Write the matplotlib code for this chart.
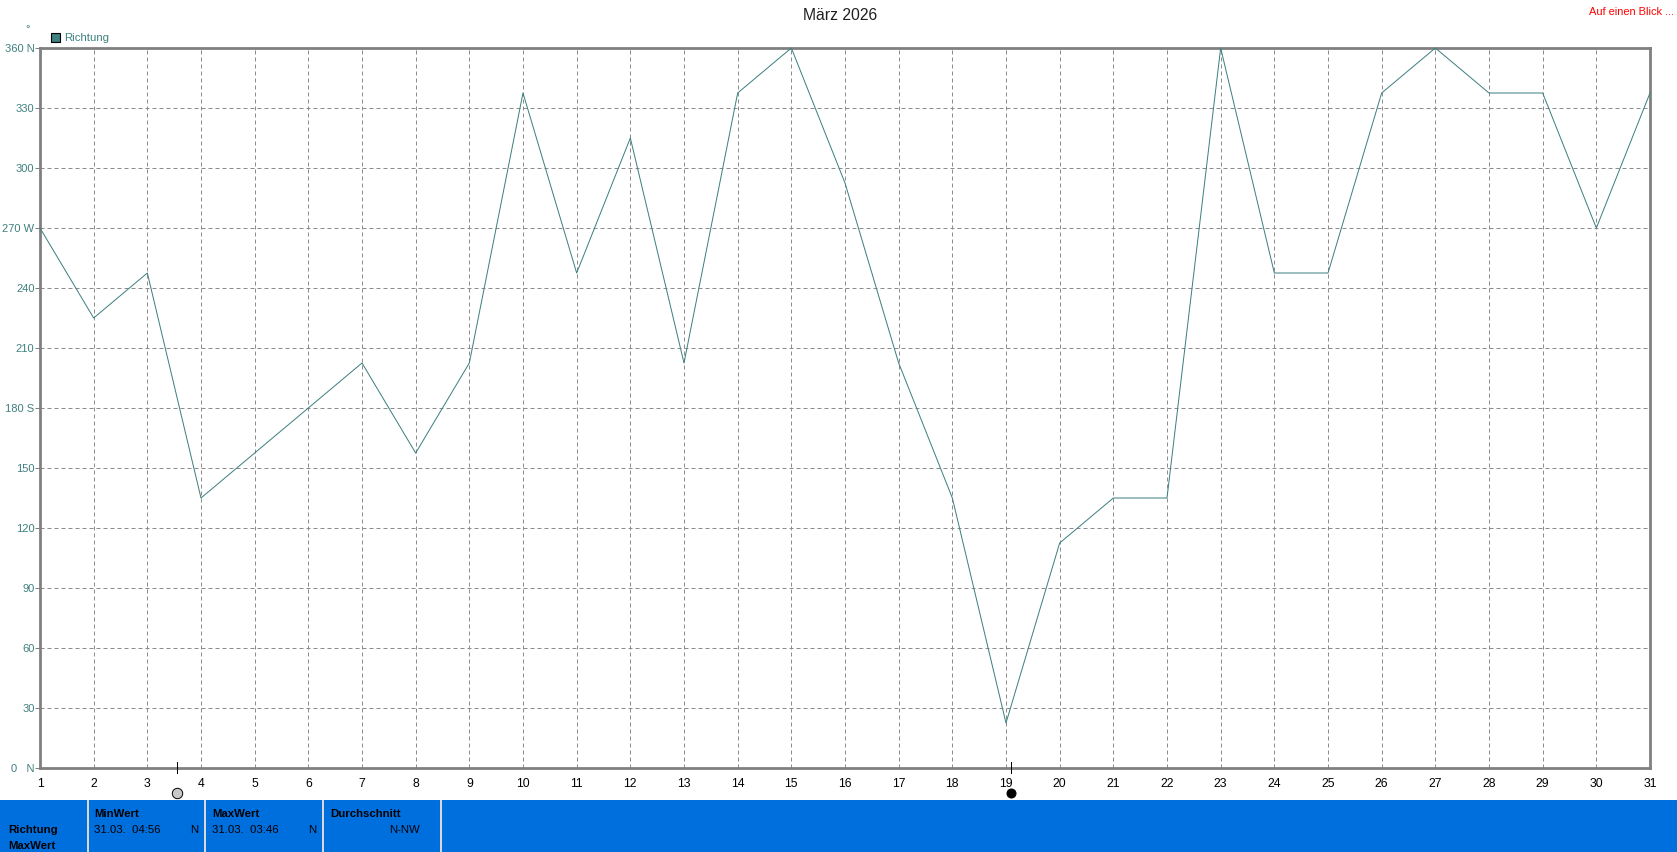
import matplotlib
matplotlib.use("Agg")
import matplotlib.pyplot as plt
from matplotlib.patches import Rectangle
from matplotlib.transforms import Affine2D

W, H = 1677, 852
FONT = "Liberation Sans"
TEAL = "#3F8080"
GREY = "#808080"
BLUE = "#006FDE"

days = list(range(1, 32))
direction = [270, 225, 247.5, 135, 157.5, 180, 202.5, 157.5, 202.5, 337.5,
             247.5, 315, 202.5, 337.5, 360, 292.5, 202.5, 135, 22.5, 112.5,
             135, 135, 360, 247.5, 247.5, 337.5, 360, 337.5, 337.5, 270, 337.5]
y_ticks = list(range(0, 361, 30))
y_labels = {0: "0   N", 30: "30", 60: "60", 90: "90", 120: "120", 150: "150",
            180: "180 S", 210: "210", 240: "240", 270: "270 W", 300: "300",
            330: "330", 360: "360 N"}
moon_days = [3.55, 19.09]
moon_faces = ["#C8C8C8", "black"]
moon_sizes = [7.5, 6.5]
panel_headers = ["MinWert", "MaxWert", "Durchschnitt"]
panel_when = ["31.03.  04:56", "31.03.  03:46", ""]
panel_values = ["N", "N", "N-NW"]
panel_lefts = [94, 212, 330]
panel_rights = [198, 316, 420]
panel_seps = [87, 204, 322, 440]

plt.rcParams["font.family"] = [FONT, "DejaVu Sans"]
fig = plt.figure(figsize=(W / 100, H / 100), dpi=100, facecolor="white")
px = Affine2D().scale(1, -1).translate(0, H)  # figure pixels, y down


def label(x, y, s, **kw):
    kw.setdefault("fontsize", 8.2)
    kw.setdefault("va", "center")
    fig.text(x, y, s, transform=px, **kw)


L, R, T, B = 40, 1650, 48, 768
ax = fig.add_axes([L / W, 1 - B / H, (R - L) / W, (B - T) / H])
ax.set_xlim(1, 31)
ax.set_ylim(0, 360)
ax.plot(days, direction, color=TEAL, lw=0.72, clip_on=False, zorder=3)
ax.set_xticks(days)
ax.set_yticks(y_ticks)
ax.set_yticklabels([])
ax.set_xticklabels([str(d) for d in days], fontsize=8.8, color="black")
ax.tick_params(axis="x", length=0, pad=7)
ax.tick_params(axis="y", length=3.5, width=0.72, color=GREY, pad=2)
ax.grid(True, color="#8C8C8C", lw=0.72, ls=(0, (4, 3)))
ax.set_axisbelow(True)
for s in ax.spines.values():
    s.set_color(GREY)
    s.set_linewidth(2.0)

for v in y_ticks:
    yy = B - (B - T) * v / 360
    label(34.5, yy + 1, y_labels[v], ha="right", color=TEAL, fontsize=8.0)

# moon phase markers
for d, face, ms in zip(moon_days, moon_faces, moon_sizes):
    ax.plot([d, d], [-2.7, 3.0], color="black", lw=0.72, clip_on=False, zorder=5)
    xx = L + (R - L) * (d - 1) / 30
    ax.plot([xx], [793], marker="o", ms=ms, mfc=face, mec="black", mew=0.7,
            transform=px, clip_on=False, zorder=5)

# title and legend
label(840, 15, "März 2026", ha="center", fontsize=11.3, color="#202020")
label(1674, 12, "Auf einen Blick ...", ha="right", color="red", fontsize=7.9)
label(28, 29, "°", ha="center", color=TEAL)
fig.add_artist(Rectangle((51, 33), 9, 9, transform=px, fc=TEAL, ec="black", lw=0.8))
label(64, 38, "Richtung", color=TEAL, fontsize=8.2)

# bottom panel
fig.add_artist(Rectangle((0, 800), W, 52, transform=px, fc=BLUE, ec="none"))
for x in panel_seps:
    fig.add_artist(Rectangle((x, 800), 1.5, 52, transform=px, fc="#D8D8D8", ec="none"))
label(8, 830, "Richtung", fontweight="bold", color="black")
label(8, 846, "MaxWert", fontweight="bold", color="black")
for x0, x1, h, w, v in zip(panel_lefts, panel_rights, panel_headers, panel_when, panel_values):
    label(x0, 814, h, fontweight="bold", color="black")
    if w:
        label(x0, 830, w, color="black")
    label(x1, 830, v, ha="right", color="black")

fig.savefig("out.png", dpi=100)
